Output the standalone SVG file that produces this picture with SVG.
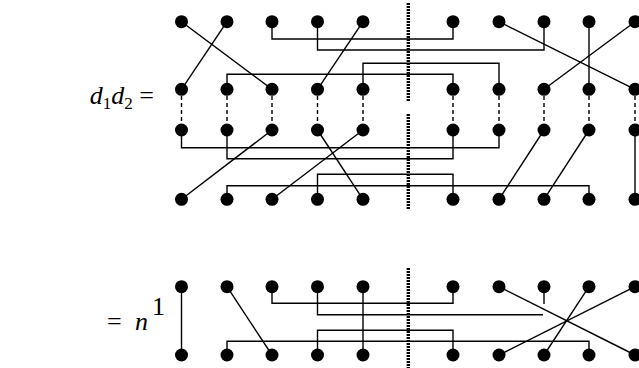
<svg xmlns="http://www.w3.org/2000/svg" width="639" height="368" viewBox="0 0 639 368">
<style>
.dot{fill:#000}
.ln{stroke:#000;stroke-width:1.4;fill:none}
.ds{stroke:#000;stroke-width:1.4;stroke-dasharray:4 3;fill:none}
.bar{stroke:#000;stroke-width:3.4;stroke-dasharray:2 1;fill:none}
.tx{font-family:"Liberation Serif","DejaVu Serif",serif;font-size:26px;fill:#000}
.it{font-style:italic}
</style>
<rect width="639" height="368" fill="#fff"/>
<g id="labels">
<text class="tx" x="154" y="104" text-anchor="end"><tspan class="it">d</tspan><tspan font-size="17" dy="5">1</tspan><tspan class="it" dy="-5">d</tspan><tspan font-size="17" dy="5">2</tspan><tspan dy="-5"> =</tspan></text>
<text class="tx" x="107" y="330">=</text>
<text class="tx it" x="135" y="330">n</text>
<text class="tx" x="152" y="315" font-size="17">1</text>
</g>
<g id="connectors">
<line class="bar" x1="408.3" y1="3" x2="408.3" y2="102"/>
<line class="bar" x1="408.3" y1="114" x2="408.3" y2="209"/>
<line class="bar" x1="408.3" y1="268" x2="408.3" y2="368"/>
<polyline class="ln" points="272,21.7 272,39 453,39 453,21.7"/>
<polyline class="ln" points="317.5,21.7 317.5,50 544,50 544,21.7"/>
<polyline class="ln" points="363,89.3 363,63.3 499,63.3 499,89.3"/>
<polyline class="ln" points="227,89.3 227,74.3 453,74.3 453,89.3"/>
<line class="ln" x1="181.5" y1="21.7" x2="272" y2="89.3"/>
<line class="ln" x1="227" y1="21.7" x2="181.5" y2="89.3"/>
<line class="ln" x1="363" y1="21.7" x2="317.5" y2="89.3"/>
<line class="ln" x1="499" y1="21.7" x2="635" y2="89.3"/>
<line class="ln" x1="635" y1="21.7" x2="544" y2="89.3"/>
<line class="ln" x1="589" y1="21.7" x2="589" y2="89.3"/>
<line class="ds" x1="181.5" y1="96" x2="181.5" y2="124"/>
<line class="ds" x1="227" y1="96" x2="227" y2="124"/>
<line class="ds" x1="272" y1="96" x2="272" y2="124"/>
<line class="ds" x1="317.5" y1="96" x2="317.5" y2="124"/>
<line class="ds" x1="363" y1="96" x2="363" y2="124"/>
<line class="ds" x1="453" y1="96" x2="453" y2="124"/>
<line class="ds" x1="499" y1="96" x2="499" y2="124"/>
<line class="ds" x1="544" y1="96" x2="544" y2="124"/>
<line class="ds" x1="589" y1="96" x2="589" y2="124"/>
<line class="ds" x1="635" y1="96" x2="635" y2="124"/>
<polyline class="ln" points="181.5,130 181.5,147.7 499,147.7 499,130"/>
<polyline class="ln" points="227,130 227,158.7 453,158.7 453,130"/>
<polyline class="ln" points="317.5,199.3 317.5,174.3 453,174.3 453,199.3"/>
<polyline class="ln" points="227,199.3 227,185.7 589,185.7 589,199.3"/>
<line class="ln" x1="272" y1="130" x2="181.5" y2="199.3"/>
<line class="ln" x1="363" y1="130" x2="272" y2="199.3"/>
<line class="ln" x1="317.5" y1="130" x2="363" y2="199.3"/>
<line class="ln" x1="544" y1="130" x2="499" y2="199.3"/>
<line class="ln" x1="589" y1="130" x2="544" y2="199.3"/>
<line class="ln" x1="635" y1="130" x2="635" y2="199.3"/>
<polyline class="ln" points="272,286.7 272,303.3 453,303.3 453,286.7"/>
<polyline class="ln" points="317.5,286.7 317.5,314.7 543,314.7"/>
<line class="ln" x1="544" y1="286.7" x2="544" y2="304"/>
<polyline class="ln" points="317.5,355 317.5,330.3 453,330.3 453,355"/>
<polyline class="ln" points="227,355 227,341.3 589,341.3 589,355"/>
<line class="ln" x1="181.5" y1="286.7" x2="181.5" y2="355"/>
<line class="ln" x1="363" y1="286.7" x2="363" y2="355"/>
<line class="ln" x1="227" y1="286.7" x2="272" y2="355"/>
<line class="ln" x1="499" y1="286.7" x2="635" y2="355"/>
<line class="ln" x1="589" y1="286.7" x2="544" y2="355"/>
<line class="ln" x1="635" y1="286.7" x2="499" y2="355"/>
</g>
<g id="nodes">
<g id="row1"><circle class="dot" cx="181.5" cy="21.7" r="6.5"/><circle class="dot" cx="227" cy="21.7" r="6.5"/><circle class="dot" cx="272" cy="21.7" r="6.5"/><circle class="dot" cx="317.5" cy="21.7" r="6.5"/><circle class="dot" cx="363" cy="21.7" r="6.5"/><circle class="dot" cx="453" cy="21.7" r="6.5"/><circle class="dot" cx="499" cy="21.7" r="6.5"/><circle class="dot" cx="544" cy="21.7" r="6.5"/><circle class="dot" cx="589" cy="21.7" r="6.5"/><circle class="dot" cx="635" cy="21.7" r="6.5"/></g>
<g id="row2"><circle class="dot" cx="181.5" cy="89.3" r="6.5"/><circle class="dot" cx="227" cy="89.3" r="6.5"/><circle class="dot" cx="272" cy="89.3" r="6.5"/><circle class="dot" cx="317.5" cy="89.3" r="6.5"/><circle class="dot" cx="363" cy="89.3" r="6.5"/><circle class="dot" cx="453" cy="89.3" r="6.5"/><circle class="dot" cx="499" cy="89.3" r="6.5"/><circle class="dot" cx="544" cy="89.3" r="6.5"/><circle class="dot" cx="589" cy="89.3" r="6.5"/><circle class="dot" cx="635" cy="89.3" r="6.5"/></g>
<g id="row3"><circle class="dot" cx="181.5" cy="130" r="6.5"/><circle class="dot" cx="227" cy="130" r="6.5"/><circle class="dot" cx="272" cy="130" r="6.5"/><circle class="dot" cx="317.5" cy="130" r="6.5"/><circle class="dot" cx="363" cy="130" r="6.5"/><circle class="dot" cx="453" cy="130" r="6.5"/><circle class="dot" cx="499" cy="130" r="6.5"/><circle class="dot" cx="544" cy="130" r="6.5"/><circle class="dot" cx="589" cy="130" r="6.5"/><circle class="dot" cx="635" cy="130" r="6.5"/></g>
<g id="row4"><circle class="dot" cx="181.5" cy="199.3" r="6.5"/><circle class="dot" cx="227" cy="199.3" r="6.5"/><circle class="dot" cx="272" cy="199.3" r="6.5"/><circle class="dot" cx="317.5" cy="199.3" r="6.5"/><circle class="dot" cx="363" cy="199.3" r="6.5"/><circle class="dot" cx="453" cy="199.3" r="6.5"/><circle class="dot" cx="499" cy="199.3" r="6.5"/><circle class="dot" cx="544" cy="199.3" r="6.5"/><circle class="dot" cx="589" cy="199.3" r="6.5"/><circle class="dot" cx="635" cy="199.3" r="6.5"/></g>
<g id="row5"><circle class="dot" cx="181.5" cy="286.7" r="6.5"/><circle class="dot" cx="227" cy="286.7" r="6.5"/><circle class="dot" cx="272" cy="286.7" r="6.5"/><circle class="dot" cx="317.5" cy="286.7" r="6.5"/><circle class="dot" cx="363" cy="286.7" r="6.5"/><circle class="dot" cx="453" cy="286.7" r="6.5"/><circle class="dot" cx="499" cy="286.7" r="6.5"/><circle class="dot" cx="544" cy="286.7" r="6.5"/><circle class="dot" cx="589" cy="286.7" r="6.5"/><circle class="dot" cx="635" cy="286.7" r="6.5"/></g>
<g id="row6"><circle class="dot" cx="181.5" cy="355" r="6.5"/><circle class="dot" cx="227" cy="355" r="6.5"/><circle class="dot" cx="272" cy="355" r="6.5"/><circle class="dot" cx="317.5" cy="355" r="6.5"/><circle class="dot" cx="363" cy="355" r="6.5"/><circle class="dot" cx="453" cy="355" r="6.5"/><circle class="dot" cx="499" cy="355" r="6.5"/><circle class="dot" cx="544" cy="355" r="6.5"/><circle class="dot" cx="589" cy="355" r="6.5"/><circle class="dot" cx="635" cy="355" r="6.5"/></g>
</g>
</svg>
